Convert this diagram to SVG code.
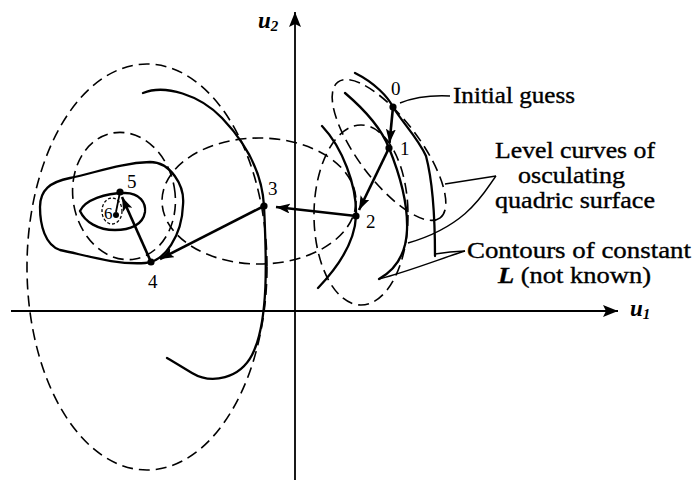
<svg xmlns="http://www.w3.org/2000/svg" width="693" height="482" viewBox="0 0 693 482">
<style>
.ax{stroke:#000;stroke-width:1.8;fill:none}
.dash{stroke:#000;stroke-width:1.6;fill:none;stroke-dasharray:11 6}
.sol{stroke:#000;stroke-width:2.3;fill:none;stroke-linecap:round}
.lead{stroke:#000;stroke-width:1.4;fill:none}
.arr{stroke:#000;stroke-width:2.6;fill:none}
.dot{fill:#000}
.num{font-family:"Liberation Serif",serif;font-size:19px;fill:#000}
.lbl{font-family:"Liberation Serif",serif;font-size:22.5px;fill:#000;stroke:#000;stroke-width:0.35}
.var{font-family:"Liberation Serif",serif;font-style:italic;font-weight:bold;fill:#000}
</style>
<defs>
<marker id="ah" markerUnits="userSpaceOnUse" markerWidth="15" markerHeight="10" refX="14" refY="5" orient="auto">
<path d="M0,0 L14,5 L0,10 L3,5 Z" fill="#000"/>
</marker>
<marker id="axh" markerUnits="userSpaceOnUse" markerWidth="16" markerHeight="12" refX="15" refY="6" orient="auto">
<path d="M0,0 L15,6 L0,12 L3,6 Z" fill="#000"/>
</marker>
</defs>

<g id="axes">
<line class="ax" x1="11" y1="311" x2="618" y2="311" marker-end="url(#axh)"/>
<line class="ax" x1="295" y1="480" x2="295" y2="12" marker-end="url(#axh)"/>
<text class="var" x="630" y="316" font-size="23">u<tspan font-size="15" dy="3">1</tspan></text>
<text class="var" x="258" y="28" font-size="23">u<tspan font-size="15" dy="3">2</tspan></text>
</g>

<g id="level-curves">
<ellipse class="dash" cx="147" cy="267" rx="120" ry="203"/>
<ellipse class="dash" cx="124" cy="196" rx="51" ry="64" transform="rotate(-10 124 196)"/>
<ellipse class="dash" cx="259" cy="201" rx="97" ry="63"/>
<ellipse class="dash" cx="361" cy="215" rx="47" ry="90"/>
<ellipse class="dash" cx="389" cy="150" rx="85" ry="31" transform="rotate(53 389 150)"/>
<ellipse class="dash" cx="112" cy="211" rx="10" ry="13" style="stroke-dasharray:3 2;stroke-width:1.3"/>
</g>

<g id="contours">
<path class="sol" d="M143,93 C165,84 200,95 222,118 C245,142 262,170 264,206 C266,250 270,320 252,355 C240,378 212,385 192,373 C182,367 174,362 167,358"/>
<path class="sol" d="M40,207 C40,190 50,182 70,178 C95,173 120,163 150,162 C170,162 185,185 183,205 C182,235 165,262 145,263 C115,265 85,255 60,250 C45,245 40,225 40,207 Z"/>
<path class="sol" d="M80,211 C85,200 105,193 125,193 C140,193 146,203 145,212 C143,225 130,230 115,230 C98,230 85,222 80,211 Z"/>
<path class="sol" d="M322,126 C342,147 357,185 356,216 C355,240 340,265 318,288"/>
<path class="sol" d="M345,93 C365,110 382,130 389,148 C400,175 408,205 407,230 C406,255 395,270 379,279"/>
<path class="sol" d="M355,73 C375,83 388,97 393,107 C402,122 418,138 426,156 C431,175 435,205 435,256"/>
</g>

<g id="annotations">
<path class="lead" d="M400,103 C415,97 430,95 450,96"/>
<text class="lbl" x="453" y="103" textLength="122" lengthAdjust="spacingAndGlyphs">Initial guess</text>
<path class="lead" d="M445,184 Q470,180 496,176"/>
<path class="lead" d="M496,176 C485,190 470,225 408,243"/>
<text class="lbl" x="495" y="158" textLength="160" lengthAdjust="spacingAndGlyphs">Level curves of</text>
<text class="lbl" x="518" y="183" textLength="107" lengthAdjust="spacingAndGlyphs">osculating</text>
<text class="lbl" x="495" y="208" textLength="160" lengthAdjust="spacingAndGlyphs">quadric surface</text>
<path class="lead" d="M435,254 L450,252 L465,251"/>
<path class="lead" d="M465,251 C445,257 410,271 379,279"/>
<text class="lbl" x="467" y="258" textLength="224" lengthAdjust="spacingAndGlyphs">Contours of constant</text>
<text class="lbl" x="498" y="283" textLength="153" lengthAdjust="spacingAndGlyphs"><tspan font-style="italic" font-weight="bold">L</tspan> (not known)</text>
</g>

<g id="connectors">
<line class="arr" x1="393" y1="107" x2="389.5" y2="143" marker-end="url(#ah)"/>
<line class="arr" x1="389" y1="148" x2="359" y2="210" marker-end="url(#ah)"/>
<line class="arr" x1="356" y1="216" x2="276" y2="207" marker-end="url(#ah)"/>
<line class="arr" x1="264" y1="206" x2="160" y2="259" marker-end="url(#ah)"/>
<line class="arr" x1="151" y1="262" x2="122" y2="197" marker-end="url(#ah)"/>
<line class="arr" x1="120" y1="192" x2="116" y2="212" style="stroke-width:1.8"/>
</g>

<g id="p0"><circle class="dot" cx="393" cy="107" r="3.6"/><text class="num" x="391" y="95">0</text></g>
<g id="p1"><circle class="dot" cx="389" cy="148" r="3.6"/><text class="num" x="400" y="155">1</text></g>
<g id="p2"><circle class="dot" cx="356" cy="216" r="3.6"/><text class="num" x="366" y="228">2</text></g>
<g id="p3"><circle class="dot" cx="264" cy="206" r="3.6"/><text class="num" x="268" y="195">3</text></g>
<g id="p4"><circle class="dot" cx="151" cy="262" r="3.6"/><text class="num" x="148" y="288">4</text></g>
<g id="p5"><circle class="dot" cx="120" cy="192" r="3.6"/><text class="num" x="127" y="188">5</text></g>
<g id="p6"><circle class="dot" cx="116" cy="215" r="3"/><text class="num" x="104" y="219" style="font-size:17px">6</text></g>
</svg>
